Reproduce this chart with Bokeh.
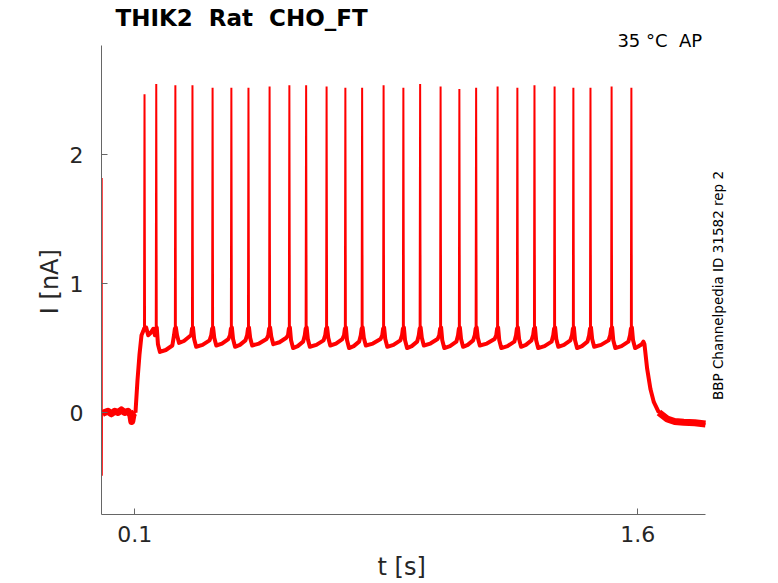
from math import pi
from bokeh.plotting import figure
from bokeh.models import Range1d, FixedTicker, Label
from bokeh.embed import file_html
from bokeh.resources import INLINE

# ---------------- data ----------------
spike_t = [0.129, 0.164, 0.221, 0.272, 0.332, 0.388, 0.439, 0.502, 0.561,
           0.611, 0.672, 0.728, 0.778, 0.842, 0.901, 0.951, 1.012, 1.068,
           1.118, 1.182, 1.241, 1.292, 1.352, 1.408, 1.459, 1.522, 1.581]
spike_peak = [2.47, 2.55, 2.54, 2.54, 2.52, 2.52, 2.52, 2.53, 2.54,
              2.54, 2.53, 2.52, 2.52, 2.54, 2.52, 2.55, 2.53, 2.51,
              2.52, 2.53, 2.52, 2.54, 2.53, 2.52, 2.52, 2.53, 2.52]
trough_I = [0.60, 0.47, 0.54, 0.51, 0.52, 0.51, 0.52, 0.53, 0.50,
            0.51, 0.52, 0.50, 0.52, 0.51, 0.50, 0.52, 0.50, 0.51,
            0.52, 0.50, 0.51, 0.50, 0.51, 0.50, 0.51, 0.50, 0.50]
pre_spike_I = 0.65
post_spike_I = 0.66

transient_t = [0.0010, 0.0013, 0.0016, 0.0020]
transient_I = [0.0, 1.82, -0.49, 0.0]

rest_t = [0.003, 0.010, 0.020, 0.030, 0.040, 0.050, 0.060, 0.070, 0.080, 0.088, 0.091, 0.095, 0.100]
rest_I = [-0.01, 0.00, 0.01, -0.01, 0.01, 0.00, 0.02, 0.00, 0.01, -0.02, -0.07, -0.01, 0.00]

onset_t = [0.102, 0.108, 0.114, 0.120, 0.125]
onset_I = [0.00, 0.25, 0.45, 0.60, 0.63]

offset_t = [1.600, 1.612, 1.617, 1.620, 1.628, 1.638, 1.648, 1.663]
offset_I = [0.51, 0.53, 0.55, 0.53, 0.34, 0.18, 0.08, 0.00]

tail_t = [1.663, 1.688, 1.710, 1.737, 1.770, 1.802]
tail_I = [0.00, -0.05, -0.07, -0.076, -0.08, -0.09]

x_ticks = [0.1, 1.6]
y_ticks = [0, 1, 2]

# ---------------- build the trace from the read values ----------------
sub_t, sub_I = list(onset_t), list(onset_I)
full_t = list(transient_t) + list(rest_t) + list(onset_t)
full_I = list(transient_I) + list(rest_I) + list(onset_I)

n = len(spike_t)
for k in range(n):
    ts = spike_t[k]
    full_t += [ts - 0.0015, ts, ts + 0.0015]
    full_I += [pre_spike_I, spike_peak[k], post_spike_I]
    sub_t += [ts - 0.0015, ts + 0.0015]
    sub_I += [pre_spike_I, post_spike_I]
    tr = trough_I[k]
    if k < n - 1:
        tn = spike_t[k + 1]
        d = tn - ts
        seg_t = [ts + 0.005, ts + 0.011, ts + 0.5 * d, tn - 0.009, tn - 0.004]
        seg_I = [tr + 0.06, tr, tr + 0.015, tr + 0.05, 0.60]
    else:
        seg_t = [ts + 0.005, ts + 0.011]
        seg_I = [tr + 0.06, tr]
    full_t += seg_t
    full_I += seg_I
    sub_t += seg_t
    sub_I += seg_I

full_t += offset_t + tail_t[1:]
full_I += offset_I + tail_I[1:]
sub_t += offset_t
sub_I += offset_I

# ---------------- figure ----------------
X0, X1 = 0.0007, 1.9959
Y0, Y1 = -0.7916, 2.9414
p = figure(frame_width=669, frame_height=481,
           x_range=Range1d(X0, X1), y_range=Range1d(Y0, Y1),
           output_backend="svg", toolbar_location=None,
           min_border_left=101, min_border_right=6, min_border_top=31, min_border_bottom=69,
           background_fill_color="white", border_fill_color="white")
p.outline_line_color = None
p.grid.visible = False

p.title.text = "THIK2\u00a0 Rat\u00a0 CHO_FT"
p.title.text_font = "DejaVu Sans"
p.title.text_font_size = "23px"
p.title.text_font_style = "bold"
p.title.text_color = "black"
p.title.align = "left"
p.title.offset = 14
p.title.standoff = 5

p.line(rest_t, rest_I, line_color="#ff0000", line_width=7, line_join="round")
p.line(tail_t, tail_I, line_color="#ff0000", line_width=7, line_join="round")
p.line(sub_t, sub_I, line_color="#ff0000", line_width=4, line_join="round")
p.line(full_t, full_I, line_color="#ff0000", line_width=2)

for ax in (p.xaxis[0], p.yaxis[0]):
    ax.axis_line_color = "#666666"
    ax.major_tick_line_color = "#666666"
    ax.minor_tick_line_color = None
    ax.major_tick_in = 6
    ax.major_tick_out = 0
    ax.major_label_text_font = "DejaVu Sans"
    ax.major_label_text_font_size = "22px"
    ax.major_label_text_color = "#262626"
    ax.axis_label_text_font = "DejaVu Sans"
    ax.axis_label_text_font_size = "24px"
    ax.axis_label_text_font_style = "normal"
    ax.axis_label_text_color = "#262626"

p.xaxis.ticker = FixedTicker(ticks=x_ticks)
p.yaxis.ticker = FixedTicker(ticks=y_ticks)
p.xaxis.bounds = (X0, 1.802)
p.yaxis.bounds = (Y0, 2.8483)
# trailing no-break spaces keep the label centred under the drawn axis (frame is wider)
p.xaxis.axis_label = "t [s]" + "\u00a0" * 9
p.yaxis.axis_label = "I [nA]" + "\u00a0" * 2
p.xaxis.major_label_standoff = 11
p.xaxis.axis_label_standoff = 8
p.yaxis.major_label_standoff = 18
p.yaxis.axis_label_standoff = 3

p.add_layout(Label(x=1.7922, y=2.885, text="35 °C\u00a0 AP", text_align="right",
                   text_baseline="middle", text_font="DejaVu Sans",
                   text_font_size="18px", text_color="black"))
p.add_layout(Label(x=1.8379, y=0.9856, text="BBP Channelpedia ID 31582 rep 2",
                   angle=pi / 2, text_align="center", text_baseline="middle",
                   text_font="DejaVu Sans", text_font_size="13.5px", text_color="black"))

open("out.html", "w").write(file_html(p, INLINE))
